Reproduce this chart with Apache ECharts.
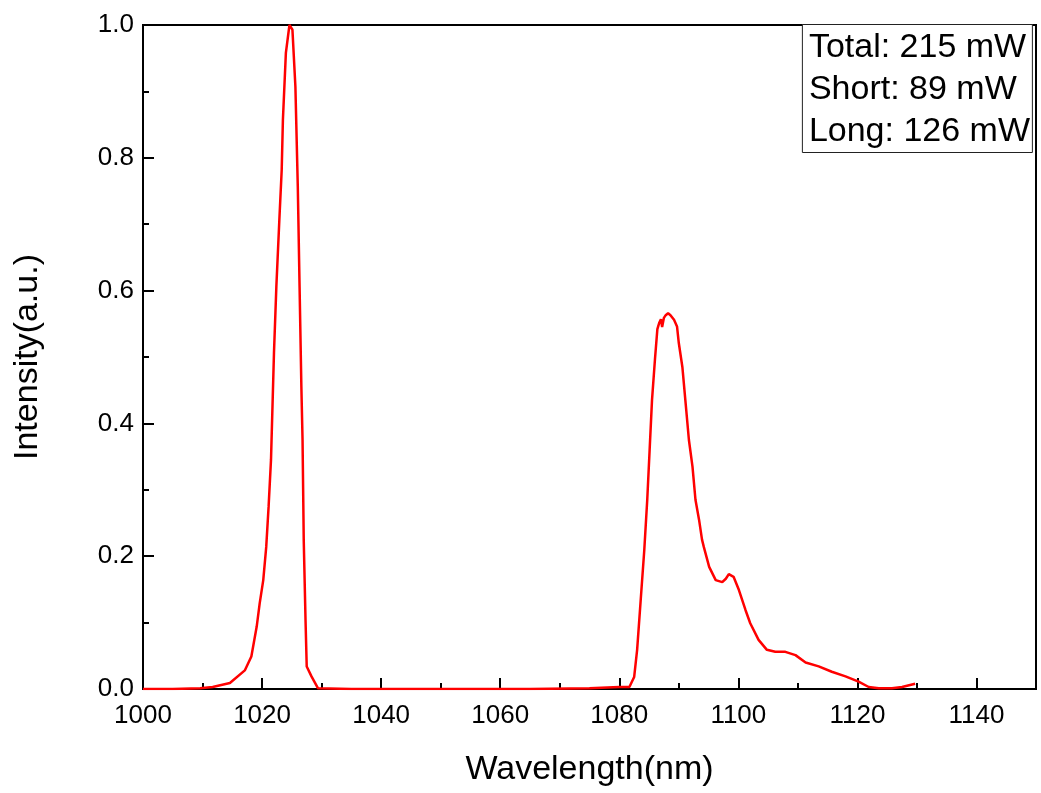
<!DOCTYPE html>
<html>
<head>
<meta charset="utf-8">
<script src="https://cdn.jsdelivr.net/npm/echarts@6/dist/echarts.min.js"></script>
<style>html,body{margin:0;padding:0;background:#fff}#c{width:1041px;height:793px}</style>
</head>
<body>
<div id="c"></div>
<script>
// Wavelength (nm) samples and normalized intensity
var wavelength = [1000, 1005, 1009.6, 1011.7, 1014.6, 1017.1, 1018.2, 1019.1, 1019.6, 1020.2, 1020.7, 1021.1, 1021.5, 1022.0, 1022.4, 1022.9, 1023.3, 1023.5, 1024.0, 1024.6, 1025.1, 1025.6, 1026.0, 1026.3, 1026.6, 1026.8, 1027.0, 1027.3, 1027.5, 1028.3, 1029.4, 1035, 1045, 1055, 1065, 1075, 1080.0, 1081.7, 1082.5, 1083.0, 1083.6, 1084.2, 1084.7, 1085.1, 1085.5, 1086.0, 1086.4, 1086.7, 1087.0, 1087.2, 1087.5, 1087.8, 1088.2, 1088.6, 1088.9, 1089.2, 1089.7, 1090.0, 1090.6, 1091.1, 1091.7, 1092.3, 1092.8, 1093.4, 1093.9, 1094.2, 1095.1, 1096.2, 1097.3, 1097.9, 1098.4, 1099.2, 1100.1, 1101.2, 1102.0, 1103.4, 1104.8, 1106.2, 1107.9, 1109.6, 1111.3, 1113.5, 1115.7, 1118.0, 1120.2, 1121.9, 1123.6, 1125.8, 1127.5, 1129.7];
var intensity = [0, 0, 0.001, 0.003, 0.009, 0.028, 0.049, 0.094, 0.129, 0.164, 0.214, 0.275, 0.345, 0.506, 0.606, 0.706, 0.782, 0.857, 0.958, 1.0, 0.993, 0.907, 0.757, 0.606, 0.456, 0.375, 0.224, 0.104, 0.034, 0.019, 0.001, 0, 0, 0, 0, 0.001, 0.003, 0.003, 0.018, 0.059, 0.134, 0.209, 0.285, 0.360, 0.435, 0.497, 0.542, 0.551, 0.557, 0.545, 0.559, 0.563, 0.566, 0.563, 0.566, 0.556, 0.546, 0.521, 0.485, 0.435, 0.375, 0.335, 0.285, 0.255, 0.225, 0.214, 0.184, 0.164, 0.161, 0.166, 0.173, 0.169, 0.149, 0.119, 0.099, 0.074, 0.059, 0.056, 0.056, 0.051, 0.040, 0.034, 0.026, 0.019, 0.011, 0.003, 0.001, 0.001, 0.003, 0.008];
var infoLines = ['Total: 215 mW', 'Short: 89 mW', 'Long: 126 mW'];
var xTitle = 'Wavelength(nm)';
var yTitle = 'Intensity(a.u.)';

var data = wavelength.map(function (w, i) { return [w, intensity[i]]; });
var FONT = 'Liberation Sans, Arial, sans-serif';
var chart = echarts.init(document.getElementById('c'), null, { renderer: 'canvas' });
chart.setOption({
  animation: false,
  backgroundColor: '#fff',
  grid: { left: 143, right: 5, top: 25, bottom: 104, show: true, borderColor: '#000', borderWidth: 2, backgroundColor: 'transparent' },
  title: {
    text: infoLines.join('\n'),
    right: 8, top: 24,
    padding: [3, 3, 0, 7],
    borderColor: '#222', borderWidth: 1, backgroundColor: '#fff',
    textStyle: { fontFamily: FONT, fontSize: 34, fontWeight: 'normal', color: '#000', lineHeight: 42 }
  },
  xAxis: [{
    type: 'value', min: 1000, max: 1150, interval: 20,
    name: xTitle, nameLocation: 'middle', nameGap: 64,
    nameTextStyle: { fontFamily: FONT, fontSize: 34, color: '#000' },
    axisLine: { show: true, onZero: false, lineStyle: { color: '#000', width: 2 } },
    axisTick: { show: true, inside: true, length: 11, lineStyle: { color: '#000', width: 2 } },
    axisLabel: { fontFamily: FONT, fontSize: 26, color: '#000', margin: 14, showMaxLabel: false, formatter: function (v) { return String(v); } },
    splitLine: { show: false }
  }, {
    type: 'value', min: 1000, max: 1150, interval: 10, position: 'bottom',
    axisLine: { show: false },
    axisTick: { show: true, inside: true, length: 6, lineStyle: { color: '#000', width: 2 } },
    axisLabel: { show: false },
    splitLine: { show: false }
  }],
  yAxis: {
    type: 'value', min: 0, max: 1.0, interval: 0.2,
    name: yTitle, nameLocation: 'middle', nameGap: 98,
    nameTextStyle: { fontFamily: FONT, fontSize: 34, color: '#000' },
    axisLine: { show: true, lineStyle: { color: '#000', width: 2 } },
    axisTick: { show: true, inside: true, length: 11, lineStyle: { color: '#000', width: 2 } },
    minorTick: { show: true, splitNumber: 2, length: 6, lineStyle: { color: '#000', width: 2 } },
    axisLabel: { fontFamily: FONT, fontSize: 26, color: '#000', margin: 9, formatter: function (v) { return v.toFixed(1); } },
    splitLine: { show: false }
  },
  series: [{
    type: 'line', data: data, xAxisIndex: 0, showSymbol: false, symbol: 'none',
    lineStyle: { color: '#ff0000', width: 2.5 }, clip: true
  }]
});
</script>
</body>
</html>
